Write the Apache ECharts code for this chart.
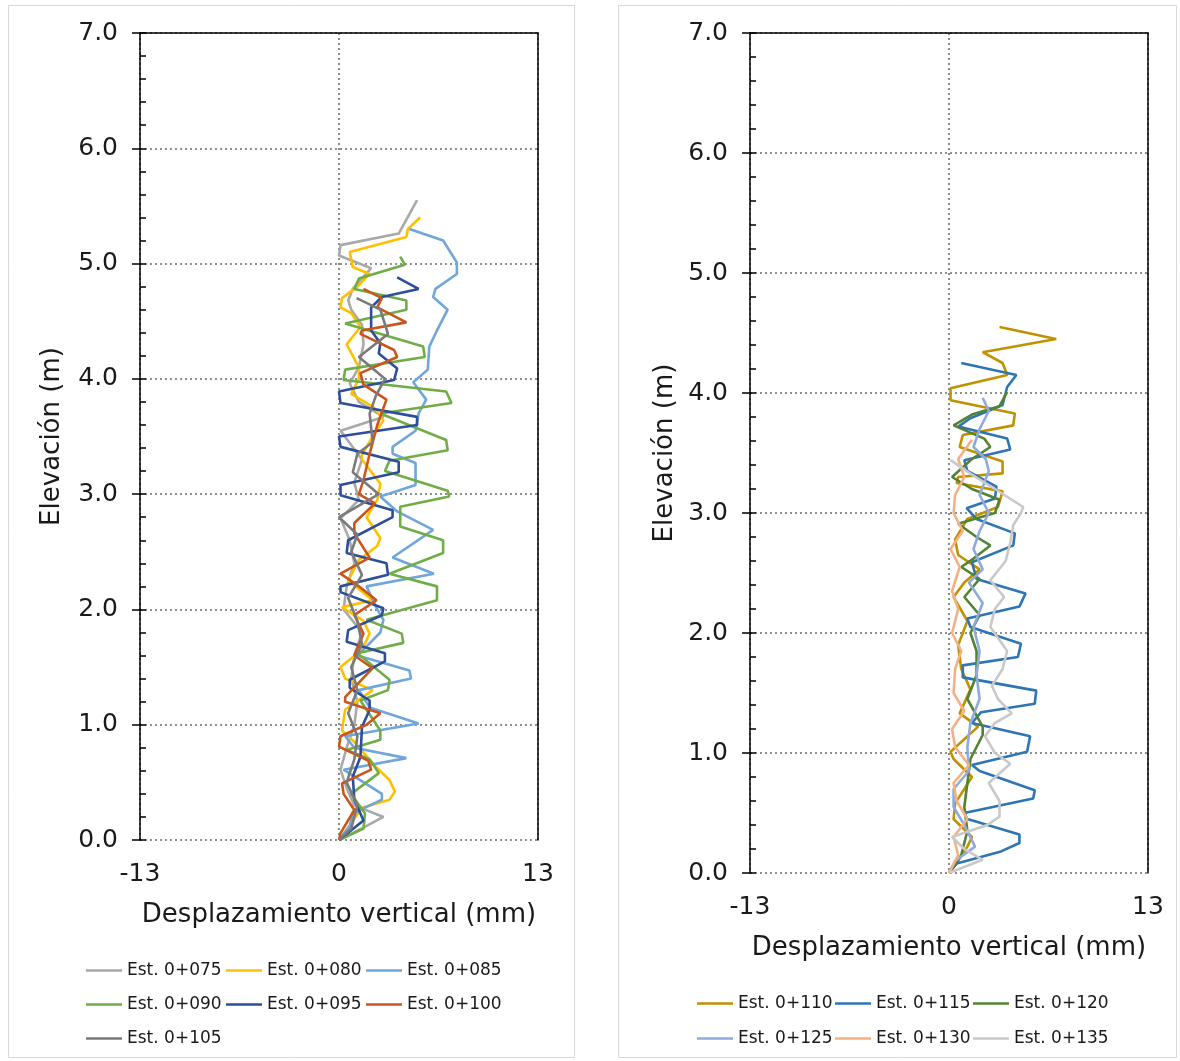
<!DOCTYPE html>
<html>
<head>
<meta charset="utf-8">
<script src="https://cdn.jsdelivr.net/npm/echarts@6/dist/echarts.min.js"></script>
<style>
html, body { margin: 0; padding: 0; background: #fff; }
#main { width: 1180px; height: 1061px; }
</style>
</head>
<body>
<div id="main"></div>
<script>
// ticks
var xTicks = [-13, 0, 13];
var yTicks = [0, 1, 2, 3, 4, 5, 6, 7];

// panel izquierdo: [desplazamiento (mm), elevacion (m)]
var leftNames = ['Est. 0+075', 'Est. 0+080', 'Est. 0+085', 'Est. 0+090', 'Est. 0+095', 'Est. 0+100', 'Est. 0+105'];
var leftColors = ['#A9A9A9', '#FFC000', '#6FA6DB', '#70AD47', '#2C4E9B', '#C9561A', '#7A7A7A'];

var est075 = [[0,0],[1.5,0.1],[2.9,0.2],[1.0,0.3],[0.5,0.45],[0.1,0.61],[0.5,0.8],[1.0,1.0],[1.2,1.2],[0.8,1.4],[1.0,1.6],[1.5,1.8],[0.3,2.0],[0.5,2.2],[1.0,2.4],[0.7,2.6],[0.1,2.79],[1.3,2.95],[1.0,3.1],[1.5,3.3],[0.1,3.55],[2.9,3.67],[1.3,3.8],[0.7,3.96],[1.3,4.1],[1.6,4.3],[1.5,4.47],[0.8,4.6],[0.6,4.68],[0.9,4.78],[2.1,4.96],[0,5.07],[0.1,5.16],[3.9,5.26],[5.1,5.55]];
var est080 = [[0,0],[0.5,0.09],[1.5,0.28],[3.3,0.35],[3.65,0.42],[3.3,0.52],[2.3,0.65],[1.0,0.85],[0.2,0.95],[0.4,1.13],[2.2,1.3],[0.4,1.4],[0.1,1.5],[1.5,1.65],[2.0,1.79],[1.6,1.9],[0.2,2.02],[2.2,2.08],[0.6,2.25],[1.3,2.43],[2.5,2.55],[2.7,2.62],[1.8,2.8],[2.5,2.95],[2.7,3.09],[1.5,3.3],[1.5,3.34],[2.2,3.5],[2.9,3.64],[2.3,3.75],[0.8,3.87],[1.3,4.0],[1.3,4.1],[0.5,4.3],[1.4,4.45],[0.8,4.57],[0.1,4.62],[0.2,4.7],[1.2,4.8],[2.0,4.91],[0.9,4.97],[0.7,5.1],[4.4,5.23],[4.5,5.3],[5.3,5.4]];
var est085 = [[0,0],[0.7,0.12],[0.9,0.23],[2.8,0.35],[2.8,0.4],[0.3,0.61],[4.4,0.71],[1.0,0.8],[0.4,0.9],[5.2,1.01],[2.0,1.15],[1.3,1.3],[4.7,1.4],[4.6,1.47],[1.2,1.6],[2.7,1.8],[2.9,1.91],[2.5,2.0],[1.8,2.2],[6.2,2.31],[3.5,2.45],[6.15,2.69],[3.8,2.85],[2.7,2.98],[5.0,3.08],[5.0,3.27],[3.5,3.35],[3.5,3.41],[5.0,3.55],[5.2,3.7],[5.7,3.82],[4.85,3.97],[5.8,4.08],[5.9,4.28],[6.4,4.42],[7.1,4.6],[6.15,4.71],[6.3,4.78],[7.7,4.91],[7.7,5.01],[6.8,5.2],[4.6,5.3]];
var est090 = [[0,0],[1.6,0.1],[1.7,0.23],[0.8,0.4],[2.6,0.58],[2.0,0.7],[0.5,0.78],[2.7,0.87],[2.7,0.95],[1.4,1.21],[3.2,1.3],[3.3,1.39],[1.2,1.62],[4.2,1.71],[4.1,1.79],[1.8,1.91],[6.4,2.08],[6.4,2.2],[3.3,2.31],[6.8,2.49],[6.8,2.6],[4.0,2.72],[4.0,2.89],[7.2,2.98],[7.1,3.03],[3.0,3.2],[3.3,3.29],[7.1,3.38],[7.0,3.47],[2.7,3.7],[7.35,3.79],[7.0,3.89],[0.3,3.99],[0.4,4.08],[5.6,4.19],[5.5,4.28],[0.4,4.48],[4.4,4.6],[4.4,4.68],[1.0,4.78],[1.3,4.87],[4.3,4.99],[4.0,5.06]];
var est095 = [[0,0],[1.6,0.17],[1.0,0.35],[0.9,0.55],[1.4,0.72],[1.5,0.98],[2.0,1.13],[2.0,1.21],[0.7,1.32],[0.7,1.39],[3.0,1.55],[3.0,1.62],[0.5,1.72],[0.6,1.82],[2.8,1.95],[2.9,2.01],[0.1,2.15],[0.1,2.2],[3.2,2.3],[3.1,2.4],[0.5,2.49],[0.6,2.6],[3.5,2.8],[3.5,2.86],[0.1,2.99],[0.1,3.08],[3.9,3.19],[3.9,3.28],[0.1,3.41],[0,3.5],[5.1,3.6],[5.1,3.67],[0.1,3.79],[0,3.89],[3.6,3.99],[3.8,4.09],[2.6,4.22],[2.7,4.31],[2.1,4.42],[2.1,4.62],[2.8,4.71],[5.2,4.78],[3.8,4.88]];
var est100 = [[0,0],[0.1,0.06],[1.0,0.26],[0.3,0.4],[0.2,0.49],[2.1,0.61],[1.9,0.69],[0,0.81],[0.1,0.9],[1.8,1.0],[2.7,1.1],[0.4,1.2],[0.4,1.24],[2.2,1.49],[1.0,1.6],[1.6,1.79],[1.0,1.95],[2.45,2.08],[1.3,2.2],[0.1,2.31],[2.0,2.45],[1.0,2.66],[1.0,2.75],[2.35,2.92],[1.3,3.0],[1.6,3.12],[2.0,3.35],[2.5,3.6],[3.1,3.82],[1.6,3.95],[1.4,4.05],[3.8,4.19],[3.6,4.25],[1.4,4.39],[1.5,4.42],[4.4,4.49],[2.5,4.62],[2.8,4.7],[1.6,4.78]];
var est105 = [[0,0],[0.8,0.1],[1.2,0.3],[0.5,0.5],[1.0,0.7],[1.2,0.9],[0.6,1.1],[1.2,1.3],[0.8,1.5],[1.5,1.7],[1.2,1.9],[0.6,2.1],[1.5,2.3],[0.8,2.5],[1.2,2.65],[0,2.8],[2.6,3.0],[0.9,3.19],[1.2,3.35],[2.2,3.45],[2.0,3.7],[2.4,3.85],[3.0,4.0],[1.3,4.19],[3.2,4.39],[2.7,4.6],[1.15,4.7]];

// panel derecho
var rightNames = ['Est. 0+110', 'Est. 0+115', 'Est. 0+120', 'Est. 0+125', 'Est. 0+130', 'Est. 0+135'];
var rightColors = ['#C09100', '#2E75B6', '#548235', '#8FAADC', '#F4B183', '#C9C9C9'];

var est110 = [[0,0],[0.5,0.08],[1.2,0.22],[1.5,0.3],[0.3,0.45],[0.4,0.58],[1.0,0.7],[1.5,0.8],[0.3,0.95],[0.1,1.01],[1.9,1.22],[0.7,1.33],[1.4,1.53],[0.8,1.7],[0.6,1.9],[1.2,2.1],[0.3,2.3],[1.0,2.42],[2.0,2.53],[0.6,2.65],[0.4,2.78],[1.2,2.95],[3.2,3.05],[3.5,3.18],[0.5,3.25],[0.6,3.3],[3.5,3.33],[3.5,3.43],[0.7,3.55],[0.9,3.65],[4.2,3.73],[4.3,3.83],[0.1,3.94],[0.1,4.04],[3.8,4.15],[3.5,4.25],[2.2,4.34],[7.0,4.45],[3.3,4.55]];
var est115 = [[0,0],[0.5,0.08],[3.4,0.18],[4.6,0.25],[4.6,0.32],[1.2,0.45],[1.0,0.5],[5.5,0.62],[5.6,0.69],[2.0,0.85],[1.5,0.9],[5.1,1.01],[5.3,1.14],[1.5,1.25],[2.1,1.34],[5.6,1.41],[5.7,1.52],[0.9,1.63],[0.9,1.73],[4.5,1.8],[4.7,1.91],[1.4,2.05],[1.2,2.12],[4.6,2.22],[5.0,2.33],[1.8,2.45],[1.5,2.59],[4.2,2.73],[4.3,2.83],[1.8,2.95],[1.15,3.04],[3.0,3.12],[3.1,3.22],[1.2,3.35],[1.0,3.44],[4.0,3.53],[3.8,3.62],[0.6,3.72],[1.4,3.79],[3.5,3.9],[3.8,4.05],[4.4,4.15],[0.8,4.25]];
var est120 = [[0,0],[0.8,0.15],[1.2,0.35],[1.0,0.55],[1.2,0.75],[1.4,0.95],[2.2,1.15],[2.2,1.22],[1.2,1.45],[1.8,1.65],[1.8,1.85],[1.4,2.0],[2.0,2.15],[1.0,2.3],[2.0,2.45],[0.8,2.55],[1.6,2.62],[2.7,2.73],[1.8,2.8],[0.6,2.91],[3.0,3.0],[3.3,3.11],[1.5,3.2],[0.2,3.3],[1.5,3.45],[2.7,3.55],[2.3,3.62],[0.3,3.73],[1.5,3.82],[3.3,3.89],[3.8,4.01]];
var est125 = [[0,0],[0.4,0.1],[1.7,0.22],[1.0,0.4],[0.3,0.55],[0.3,0.7],[1.3,0.85],[1.2,1.05],[1.4,1.25],[2.0,1.45],[1.8,1.65],[2.0,1.85],[1.6,2.05],[2.2,2.25],[1.3,2.42],[2.2,2.53],[1.6,2.7],[2.0,2.85],[2.6,3.0],[2.0,3.15],[2.6,3.35],[2.4,3.45],[1.6,3.55],[2.0,3.7],[2.6,3.85],[2.2,3.96]];
var est130 = [[0,0],[0.6,0.15],[0.3,0.3],[1.2,0.45],[0.5,0.6],[0.3,0.75],[1.3,0.9],[0.4,1.05],[0.2,1.2],[1.0,1.35],[0.3,1.5],[0.4,1.7],[0.8,1.85],[0.2,2.0],[0.6,2.2],[0.2,2.35],[0.7,2.55],[0.1,2.7],[0.9,2.85],[0.3,3.0],[0.4,3.15],[1.0,3.3],[0.6,3.45],[1.5,3.61]];
var est135 = [[0,0],[2.2,0.11],[1.0,0.2],[0.2,0.3],[2.5,0.4],[3.3,0.47],[3.3,0.6],[2.6,0.75],[4.0,0.91],[3.0,1.0],[2.35,1.14],[3.0,1.25],[4.1,1.33],[3.2,1.45],[2.8,1.56],[3.5,1.7],[3.8,1.85],[2.7,2.05],[3.0,2.2],[3.6,2.3],[2.7,2.44],[3.7,2.6],[4.0,2.75],[4.2,2.9],[4.7,3.0],[4.85,3.05],[3.0,3.2],[1.5,3.32],[0.1,3.44]];

var leftData = [est075, est080, est085, est090, est095, est100, est105];
var rightData = [est110, est115, est120, est125, est130, est135];

var FONT = 'DejaVu Sans';
var myChart = echarts.init(document.getElementById('main'), null, {renderer: 'canvas'});

function xAxes(gridIndex) {
    return [
        {
            gridIndex: gridIndex, type: 'value', min: xTicks[0], max: xTicks[2], interval: 13,
            position: 'bottom',
            name: 'Desplazamiento vertical (mm)', nameLocation: 'middle', nameGap: 62,
            nameTextStyle: {fontFamily: FONT, fontSize: 26, color: '#1a1a1a'},
            axisLine: {show: false, onZero: false},
            axisTick: {show: false},
            axisLabel: {fontFamily: FONT, fontSize: 25, color: '#1a1a1a', margin: 22},
            splitLine: {show: true, lineStyle: {color: '#6e6e6e', type: [2, 3], width: 1.6}}
        },
        {
            gridIndex: gridIndex, type: 'value', min: xTicks[0], max: xTicks[2], position: 'top',
            axisLine: {show: true, onZero: false, lineStyle: {color: '#000', width: 1.5}},
            axisTick: {show: false}, axisLabel: {show: false}, splitLine: {show: false}
        }
    ];
}

function yAxes(gridIndex, gap) {
    return [
        {
            gridIndex: gridIndex, type: 'value', min: 0, max: 7, interval: 1, position: 'left',
            name: 'Elevación (m)', nameLocation: 'middle', nameGap: gap, nameRotate: 90,
            nameTextStyle: {fontFamily: FONT, fontSize: 26, color: '#1a1a1a'},
            axisLine: {show: true, onZero: false, lineStyle: {color: '#000', width: 1.5}},
            axisTick: {show: true, length: 8, lineStyle: {color: '#000', width: 1.5}},
            axisLabel: {fontFamily: FONT, fontSize: 25, color: '#1a1a1a', margin: 22,
                formatter: function (v) { return v.toFixed(1); }},
            splitLine: {show: true, lineStyle: {color: '#6e6e6e', type: [2, 3], width: 1.6}}
        },
        {   // marcas menores hacia dentro
            gridIndex: gridIndex, type: 'value', min: 0, max: 7, interval: 0.2, position: 'left',
            axisLine: {show: false, onZero: false},
            axisTick: {show: true, inside: true, length: 6, lineStyle: {color: '#000', width: 1.5}},
            axisLabel: {show: false}, splitLine: {show: false}
        },
        {
            gridIndex: gridIndex, type: 'value', min: 0, max: 7, position: 'right',
            axisLine: {show: true, onZero: false, lineStyle: {color: '#000', width: 1.5}},
            axisTick: {show: false}, axisLabel: {show: false}, splitLine: {show: false}
        }
    ];
}

var series = [];
var legends = [];
var legendBase = {
    padding: 0, itemWidth: 36, itemHeight: 2.5, icon: 'rect',
    textStyle: {fontFamily: FONT, fontSize: 17, color: '#1a1a1a'}
};

leftNames.forEach(function (n, i) {
    series.push({
        name: n, type: 'line', xAxisIndex: 0, yAxisIndex: 0, data: leftData[i],
        symbol: 'none', lineStyle: {width: 2.6, color: leftColors[i]}, itemStyle: {color: leftColors[i]},
        z: 3
    });
    legends.push(Object.assign({}, legendBase, {
        data: [n], left: 86, top: 963
    }));
    legends[legends.length - 1].left = 86 + (i % 3) * 140;
    legends[legends.length - 1].top = 962 + Math.floor(i / 3) * 34;
});

rightNames.forEach(function (n, i) {
    series.push({
        name: n, type: 'line', xAxisIndex: 2, yAxisIndex: 3, data: rightData[i],
        symbol: 'none', lineStyle: {width: 2.6, color: rightColors[i]}, itemStyle: {color: rightColors[i]},
        z: 3
    });
    legends.push(Object.assign({}, legendBase, {
        data: [n], left: 697 + (i % 3) * 138, top: 995 + Math.floor(i / 3) * 35
    }));
});

option = {
    backgroundColor: '#fff',
    animation: false,
    grid: [
        {left: 140, top: 33, width: 398, height: 807},
        {left: 750, top: 33, width: 398, height: 840}
    ],
    xAxis: xAxes(0).concat(xAxes(1)),
    yAxis: yAxes(0, 75).concat(yAxes(1, 72)),
    legend: legends,
    graphic: [
        {type: 'rect', shape: {x: 8.5, y: 5.5, width: 566, height: 1052}, style: {fill: 'none', stroke: '#D9D9D9', lineWidth: 1}},
        {type: 'rect', shape: {x: 618.5, y: 5.5, width: 558, height: 1052}, style: {fill: 'none', stroke: '#D9D9D9', lineWidth: 1}}
    ],
    series: series
};

myChart.setOption(option);
</script>
</body>
</html>
